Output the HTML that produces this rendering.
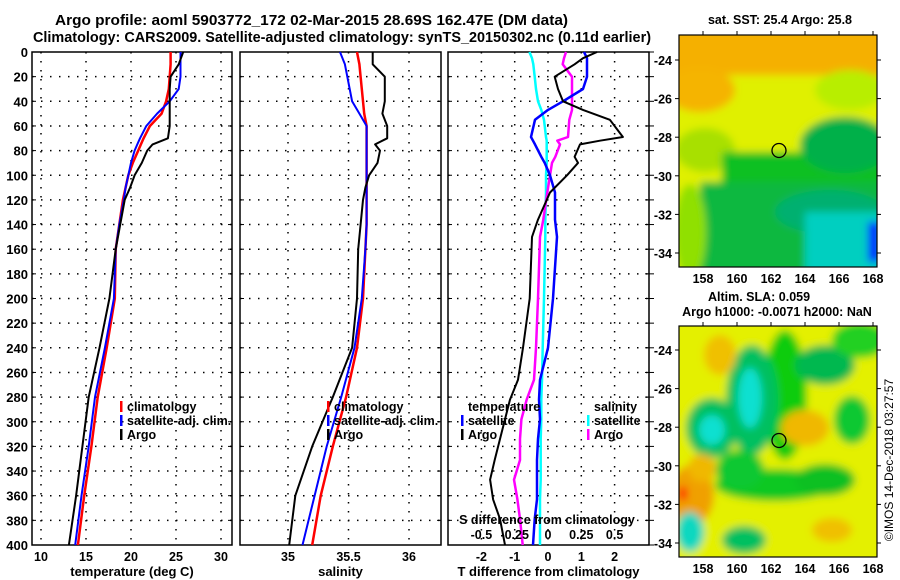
<!DOCTYPE html>
<html><head><meta charset="utf-8">
<style>
html,body{margin:0;padding:0;background:#fff;}
svg{display:block;font-family:"Liberation Sans",Arial,sans-serif;font-weight:bold;}
text{fill:#000;}
</style></head>
<body>
<svg id="fig" width="900" height="580" viewBox="0 0 900 580" xmlns="http://www.w3.org/2000/svg">
<defs>
<filter id="bl1" x="-20%" y="-20%" width="140%" height="140%"><feGaussianBlur stdDeviation="4"/></filter>
<filter id="bl2" x="-30%" y="-30%" width="160%" height="160%"><feGaussianBlur stdDeviation="4"/></filter>
<clipPath id="cm1"><rect x="679" y="35" width="198" height="232"/></clipPath>
<clipPath id="cm2"><rect x="679" y="326" width="198" height="231"/></clipPath>
</defs>
<text x="55" y="25" font-size="14.5" textLength="513" lengthAdjust="spacingAndGlyphs">Argo profile: aoml 5903772_172 02-Mar-2015 28.69S 162.47E (DM data)</text>
<text x="33" y="42" font-size="14.5" textLength="618" lengthAdjust="spacingAndGlyphs">Climatology: CARS2009. Satellite-adjusted climatology: synTS_20150302.nc (0.11d earlier)</text>
<g id="plots"></g>
<g id="maps"></g>
</svg>
<script>
// ---------- data ----------
const depths=[0,10,20,30,40,50,60,70,75,80,90,100,110,120,140,160,200,240,280,320,360,400];
const tempArgo=[25.8,25.3,24.4,24.3,24.3,24.3,24.3,24.1,22.4,21.8,21.2,20.4,19.9,19.3,18.8,18.3,17.6,16.5,15.3,14.6,13.9,13.1];
const tempClim=[24.4,24.4,24.3,24.2,23.9,23.4,22.1,21.4,21.1,20.8,20.2,19.7,19.4,19.1,18.7,18.3,18.2,17.3,16.3,15.6,14.8,14.1];
const tempSat=[25.5,25.5,25.5,25.3,24.3,22.9,21.7,21.0,20.7,20.4,20.0,19.7,19.4,19.2,18.7,18.3,18.1,17.1,16.0,15.3,14.5,13.8];
const salArgo=[35.70,35.70,35.80,35.80,35.80,35.78,35.82,35.82,35.72,35.76,35.74,35.67,35.64,35.62,35.60,35.58,35.57,35.53,35.37,35.20,35.06,35.01];
const salClim=[35.57,35.59,35.60,35.61,35.62,35.63,35.65,35.65,35.65,35.65,35.65,35.65,35.65,35.65,35.65,35.64,35.62,35.57,35.48,35.37,35.27,35.20];
const salSat=[35.43,35.47,35.49,35.51,35.53,35.59,35.65,35.65,35.65,35.65,35.65,35.65,35.65,35.65,35.65,35.64,35.61,35.55,35.44,35.32,35.22,35.12];
const dDepths=[0,5,10,20,30,40,47,55,69,72,75,85,90,100,114,136,150,200,240,266,282,298,314,331,347,363,379,400];
const dTArgo=[1.47,1.05,0.8,0.2,0.3,0.45,1.05,1.86,2.25,1.56,0.96,0.8,0.9,0.57,0.06,-0.3,-0.48,-0.55,-0.75,-0.9,-1.14,-1.29,-1.44,-1.6,-1.74,-1.65,-1.44,-1.29];
const dTSat=[1.08,1.17,1.17,1.17,1.05,0.45,0.0,-0.39,-0.51,-0.45,-0.39,-0.2,-0.1,0.06,0.21,0.21,0.27,0.15,0.0,-0.24,-0.27,-0.24,-0.3,-0.33,-0.33,-0.33,-0.4,-0.45];
const dSArgo=[0.135,0.12,0.11,0.18,0.18,0.18,0.18,0.16,0.15,0.07,0.09,0.055,0.03,0.015,-0.005,-0.035,-0.06,-0.075,-0.09,-0.105,-0.16,-0.2,-0.21,-0.21,-0.255,-0.23,-0.21,-0.19];
const dSSat=[-0.14,-0.12,-0.11,-0.1,-0.09,-0.075,-0.05,-0.03,-0.015,-0.01,-0.01,-0.01,-0.01,-0.015,-0.015,-0.02,-0.02,-0.03,-0.04,-0.045,-0.05,-0.05,-0.055,-0.055,-0.055,-0.06,-0.06,-0.06];
const depthTicks=[0,20,40,60,80,100,120,140,160,180,200,220,240,260,280,300,320,340,360,380,400];
const tTicks=[10,15,20,25,30];
const sTicks=[35,35.5,36];
const dTTicks=[-2,-1,0,1,2];
const dSTicks=[-0.5,-0.25,0,0.25,0.5];
const latTicks=[-24,-26,-28,-30,-32,-34];
const lonTicks=[158,160,162,164,166,168];

const NS="http://www.w3.org/2000/svg";
const plots=document.getElementById('plots');
function mk(tag,attrs,parent){const e=document.createElementNS(NS,tag);for(const k in attrs)e.setAttribute(k,attrs[k]);(parent||plots).appendChild(e);return e;}
const Y0=52,Y1=545;
function yD(d){return Y0+(Y1-Y0)*d/400;}
function lin(a0,a1,p0,p1){return v=>p0+(v-a0)*(p1-p0)/(a1-a0);}
const panels=[
 {x0:32,x1:232,xs:lin(10,20,41,131),ticks:tTicks,title:'temperature (deg C)',name:'temperature-panel'},
 {x0:240,x1:441,xs:lin(35,35.5,288,348.5),ticks:sTicks,title:'salinity',name:'salinity-panel'},
 {x0:448,x1:649,xs:lin(0,1,548,581.3),ticks:dTTicks,title:'T difference from climatology',name:'difference-panel'}
];
panels.forEach((p,pi)=>{
 const g=mk('g',{});
 
 
 depthTicks.forEach(d=>{
  if(d>0&&d<400){const l=mk('line',{x1:p.x0,x2:p.x1,y1:yD(d),y2:yD(d),stroke:'#000','stroke-width':1.5,'stroke-dasharray':'1.5,7.5'},g);
  }
  mk('line',{x1:p.x0,x2:p.x0+4,y1:yD(d),y2:yD(d),stroke:'#000'},g);
  mk('line',{x1:p.x1,x2:p.x1-4,y1:yD(d),y2:yD(d),stroke:'#000'},g);
  if(pi===0){const t=mk('text',{x:28,y:yD(d)+5,'font-size':13,'text-anchor':'end'},g);t.textContent=d;
   }
  if(pi===2){mk('line',{x1:p.x1,x2:p.x1+5,y1:yD(d),y2:yD(d),stroke:'#000'},g);}
 });
 p.ticks.forEach(v=>{
  const x=p.xs(v);
  const l=mk('line',{x1:x,x2:x,y1:Y0,y2:Y1,stroke:'#000','stroke-width':1.5,'stroke-dasharray':'1.5,7.5'},g);
  
  const t=mk('text',{x:x,y:561,'font-size':12.5,'text-anchor':'middle'},g);t.textContent=v;
  
 });
 const fr=mk('rect',{x:p.x0,y:Y0,width:p.x1-p.x0,height:Y1-Y0,fill:'none',stroke:'#000','stroke-width':1.5},g);
 
 const tt=mk('text',{x:(p.x0+p.x1)/2,y:576,'font-size':13,'text-anchor':'middle'},g);tt.textContent=p.title;
 
});
function line(vals,ds,xs,color,w,name){
 const pts=vals.map((v,i)=>xs(v).toFixed(1)+','+yD(ds[i]).toFixed(1)).join(' ');
 const e=mk('polyline',{points:pts,fill:'none',stroke:color,'stroke-width':w,'stroke-linejoin':'round'});
 
 
}
const P=panels;
line(tempClim,depths,P[0].xs,'#f00',2.5,'temperature-climatology-line');
line(tempSat,depths,P[0].xs,'#00f',2,'temperature-satellite-line');
line(tempArgo,depths,P[0].xs,'#000',2,'temperature-argo-line');
line(salClim,depths,P[1].xs,'#f00',2.5,'salinity-climatology-line');
line(salSat,depths,P[1].xs,'#00f',2,'salinity-satellite-line');
line(salArgo,depths,P[1].xs,'#000',2,'salinity-argo-line');
const sx=lin(0,0.25,548,581.3);
line(dSSat,dDepths,sx,'#0ff',2.5,'salinity-diff-satellite-line');
line(dSArgo,dDepths,sx,'#f0f',2.5,'salinity-diff-argo-line');
line(dTSat,dDepths,P[2].xs,'#00f',2.5,'temperature-diff-satellite-line');
line(dTArgo,dDepths,P[2].xs,'#000',2,'temperature-diff-argo-line');
const sl=mk('text',{x:547,y:524,'font-size':12.5,'text-anchor':'middle'});sl.textContent='S difference from climatology';

dSTicks.forEach(v=>{const t=mk('text',{x:sx(v),y:539,'font-size':12.5,'text-anchor':'middle'});t.textContent=v;
 });
function leg(x,y,color,label,name){
 const g=mk('g',{});
 if(color)mk('rect',{x:x,y:y-10,width:2.5,height:11,fill:color},g);
 const t=mk('text',{x:x+(color?7:0),y:y,'font-size':12.5},g);t.textContent=label;
}
leg(120,411,'#f00','climatology','legend-entry-climatology');
leg(120,425,'#00f','satellite-adj. clim.','legend-entry-satellite');
leg(120,439,'#000','Argo','legend-entry-argo');
leg(327,411,'#f00','climatology','legend-entry-climatology-2');
leg(327,425,'#00f','satellite-adj. clim.','legend-entry-satellite-2');
leg(327,439,'#000','Argo','legend-entry-argo-2');
leg(468,411,null,'temperature','legend-temperature-header');
leg(461,425,'#00f','satellite','legend-entry-t-satellite');
leg(461,439,'#000','Argo','legend-entry-t-argo');
leg(594,411,null,'salinity','legend-salinity-header');
leg(587,425,'#0ff','satellite','legend-entry-s-satellite');
leg(587,439,'#f0f','Argo','legend-entry-s-argo');

// ---------- maps ----------
const maps=document.getElementById('maps');
function mm(tag,attrs,parent){const e=document.createElementNS(NS,tag);for(const k in attrs)e.setAttribute(k,attrs[k]);(parent||maps).appendChild(e);return e;}
function mapFrame(top,frameTop,bot,name,clip,shapes,filt){
 const g=mm('g',{});
 const lonX=lin(158,168,703,873);
 const latY=lin(-24,-34,top,top+193);
 const cg=mm('g',{'clip-path':'url(#'+clip+')'},g);
 const bg=mm('g',{filter:'url(#'+filt+')'},cg);
 shapes.forEach(s=>{mm(s[0],s[1],bg);});
 latTicks.forEach(v=>{const y=latY(v);mm('line',{x1:679,x2:675,y1:y,y2:y,stroke:'#000'},g);mm('line',{x1:877,x2:881,y1:y,y2:y,stroke:'#000'},g);
  const t=mm('text',{x:672,y:y+5,'font-size':12.5,'text-anchor':'end'},g);t.textContent=v;
  });
 lonTicks.forEach(v=>{const x=lonX(v);
  mm('line',{x1:x,x2:x,y1:frameTop,y2:frameTop-4,stroke:'#000'},g);
  const t=mm('text',{x:x,y:bot+16,'font-size':12.5,'text-anchor':'middle'},g);t.textContent=v;
  });
 mm('rect',{x:679,y:frameTop,width:198,height:bot-frameTop,fill:'none',stroke:'#000','stroke-width':1.2},g);
 const c=mm('circle',{cx:lonX(162.47),cy:latY(-28.69),r:7,fill:'none',stroke:'#000','stroke-width':1.3},g);
 
}
mapFrame(60,35,267,'sst-map','cm1',[
 ['rect',{x:670,y:25,width:220,height:260,fill:'#e0f000'}],
 ['rect',{x:670,y:25,width:220,height:50,fill:'#f5b000'}],
 ['ellipse',{cx:700,cy:90,rx:35,ry:22,fill:'#f5b400'}],
 ['ellipse',{cx:850,cy:90,rx:35,ry:20,fill:'#b8ee00'}],
 ['ellipse',{cx:705,cy:150,rx:30,ry:22,fill:'#a8e000'}],
 ['rect',{x:722,y:152,width:170,height:130,fill:'#10c020'}],
 ['ellipse',{cx:845,cy:145,rx:45,ry:28,fill:'#00b048'}],
 ['rect',{x:700,y:182,width:190,height:100,fill:'#10b840'}],
 ['ellipse',{cx:690,cy:232,rx:16,ry:48,fill:'#90e000'}],
 ['ellipse',{cx:830,cy:212,rx:55,ry:22,fill:'#00b070'}],
 ['rect',{x:805,y:212,width:90,height:70,fill:'#00cfc0'}],
 ['rect',{x:868,y:222,width:12,height:40,fill:'#0000ff'}]
],'bl1');
mapFrame(350,326,557,'sla-map','cm2',[
 ['rect',{x:670,y:316,width:220,height:250,fill:'#e4f000'}],
 ['ellipse',{cx:785,cy:395,rx:22,ry:65,fill:'#10cc10'}],
 ['ellipse',{cx:752,cy:400,rx:26,ry:55,fill:'#00c060'}],
 ['ellipse',{cx:750,cy:398,rx:12,ry:30,fill:'#10e0d0'}],
 ['ellipse',{cx:712,cy:428,rx:26,ry:30,fill:'#00c060'}],
 ['ellipse',{cx:712,cy:430,rx:13,ry:15,fill:'#10e0d0'}],
 ['ellipse',{cx:825,cy:365,rx:30,ry:20,fill:'#00b850'}],
 ['ellipse',{cx:860,cy:340,rx:28,ry:18,fill:'#20d020'}],
 ['ellipse',{cx:852,cy:420,rx:18,ry:24,fill:'#10c830'}],
 ['ellipse',{cx:805,cy:428,rx:24,ry:18,fill:'#f0b800'}],
 ['ellipse',{cx:720,cy:355,rx:16,ry:20,fill:'#f0c000'}],
 ['ellipse',{cx:775,cy:485,rx:60,ry:16,fill:'#10c820'}],
 ['ellipse',{cx:740,cy:470,rx:24,ry:20,fill:'#10c830'}],
 ['ellipse',{cx:825,cy:480,rx:30,ry:16,fill:'#10c020'}],
 ['ellipse',{cx:692,cy:495,rx:22,ry:30,fill:'#f0a000'}],
 ['rect',{x:679,y:487,width:8,height:13,fill:'#ff0000'}],
 ['ellipse',{cx:690,cy:532,rx:14,ry:20,fill:'#10d8c0'}],
 ['ellipse',{cx:744,cy:540,rx:22,ry:14,fill:'#00c060'}],
 ['ellipse',{cx:832,cy:530,rx:20,ry:12,fill:'#f0c000'}],
 ['ellipse',{cx:702,cy:468,rx:14,ry:14,fill:'#f0b800'}]
],'bl2');
function mt(x,y,s,name,extra){const t=mm('text',Object.assign({x:x,y:y,'font-size':12.5,'text-anchor':'middle'},extra||{}));t.textContent=s;
 }
mt(780,24,'sat. SST: 25.4 Argo: 25.8','sst-map-title');
mt(759,301,'Altim. SLA: 0.059','sla-map-title');
mt(777,316,'Argo h1000: -0.0071 h2000: NaN','argo-height-title');
mt(0,0,'©IMOS 14-Dec-2018 03:27:57','timestamp',{transform:'translate(893,460) rotate(-90)','font-size':12,'font-weight':'normal'});
</script>
</body></html>
